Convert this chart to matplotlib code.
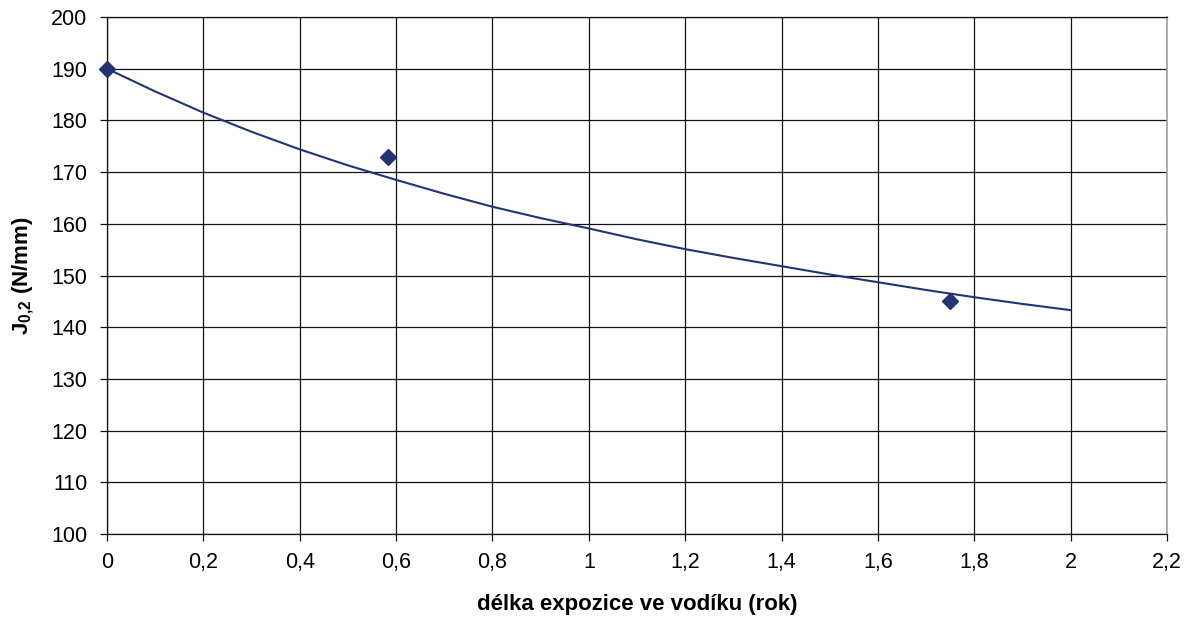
import matplotlib
matplotlib.use("Agg")
import matplotlib.pyplot as plt
from matplotlib.ticker import FuncFormatter

plt.rcParams['font.family'] = ['Liberation Sans', 'DejaVu Sans']
plt.rcParams['mathtext.fontset'] = 'custom'
plt.rcParams['mathtext.rm'] = 'Liberation Sans'
plt.rcParams['mathtext.bf'] = 'Liberation Sans:bold'
plt.rcParams['mathtext.it'] = 'Liberation Sans:italic'

# measured points
point_x = [0.0, 0.583, 1.75]
point_y = [190, 173, 145]

# trend curve
curve_x = [0.0, 0.1, 0.2, 0.3, 0.4, 0.5, 0.6, 0.7, 0.8, 0.9, 1.0,
           1.1, 1.2, 1.3, 1.4, 1.5, 1.6, 1.7, 1.8, 1.9, 2.0]
curve_y = [190.0, 185.6, 181.5, 177.8, 174.4, 171.3, 168.5, 165.8, 163.3, 161.1, 159.1,
           157.0, 155.1, 153.4, 151.8, 150.2, 148.7, 147.2, 145.8, 144.5, 143.3]

x_ticks = [0, 0.2, 0.4, 0.6, 0.8, 1.0, 1.2, 1.4, 1.6, 1.8, 2.0, 2.2]
y_ticks = [100, 110, 120, 130, 140, 150, 160, 170, 180, 190, 200]

color = '#243372'

fig = plt.figure(figsize=(11.92, 6.19), dpi=100)
ax = fig.add_axes([107/1192, 1 - 534/619, 1060/1192, 517/619])

ax.set_xlim(0, 2.2)
ax.set_ylim(100, 200)
ax.set_xticks(x_ticks)
ax.set_yticks(y_ticks)

def fmt(v, pos):
    s = ('%.1f' % v).rstrip('0').rstrip('.')
    return s.replace('.', ',')

ax.xaxis.set_major_formatter(FuncFormatter(fmt))
ax.grid(True, color='#111111', linewidth=0.9)
ax.set_axisbelow(True)

for s in ['left', 'bottom', 'top']:
    ax.spines[s].set_color('#111111')
    ax.spines[s].set_linewidth(0.9)
ax.spines['right'].set_color('#a0a0a0')
ax.spines['right'].set_linewidth(1.2)

ax.tick_params(axis='both', direction='out', length=5, width=0.9, color='#111111',
               labelsize=15.5)
ax.tick_params(axis='x', pad=8)
ax.tick_params(axis='y', pad=9)

ax.plot(curve_x, curve_y, color=color, linewidth=1.5, zorder=3, clip_on=False)
ax.plot(point_x, point_y, linestyle='none', marker='D', markersize=8.5,
        color=color, zorder=4, clip_on=False)

ax.set_xlabel('délka expozice ve vodíku (rok)', fontsize=16, fontweight='bold', labelpad=15)
ax.set_ylabel(r'$\mathbf{J_{0{,}2}}$ (N/mm)', fontsize=16, fontweight='bold', labelpad=11)

fig.savefig('out.png', dpi=100)
